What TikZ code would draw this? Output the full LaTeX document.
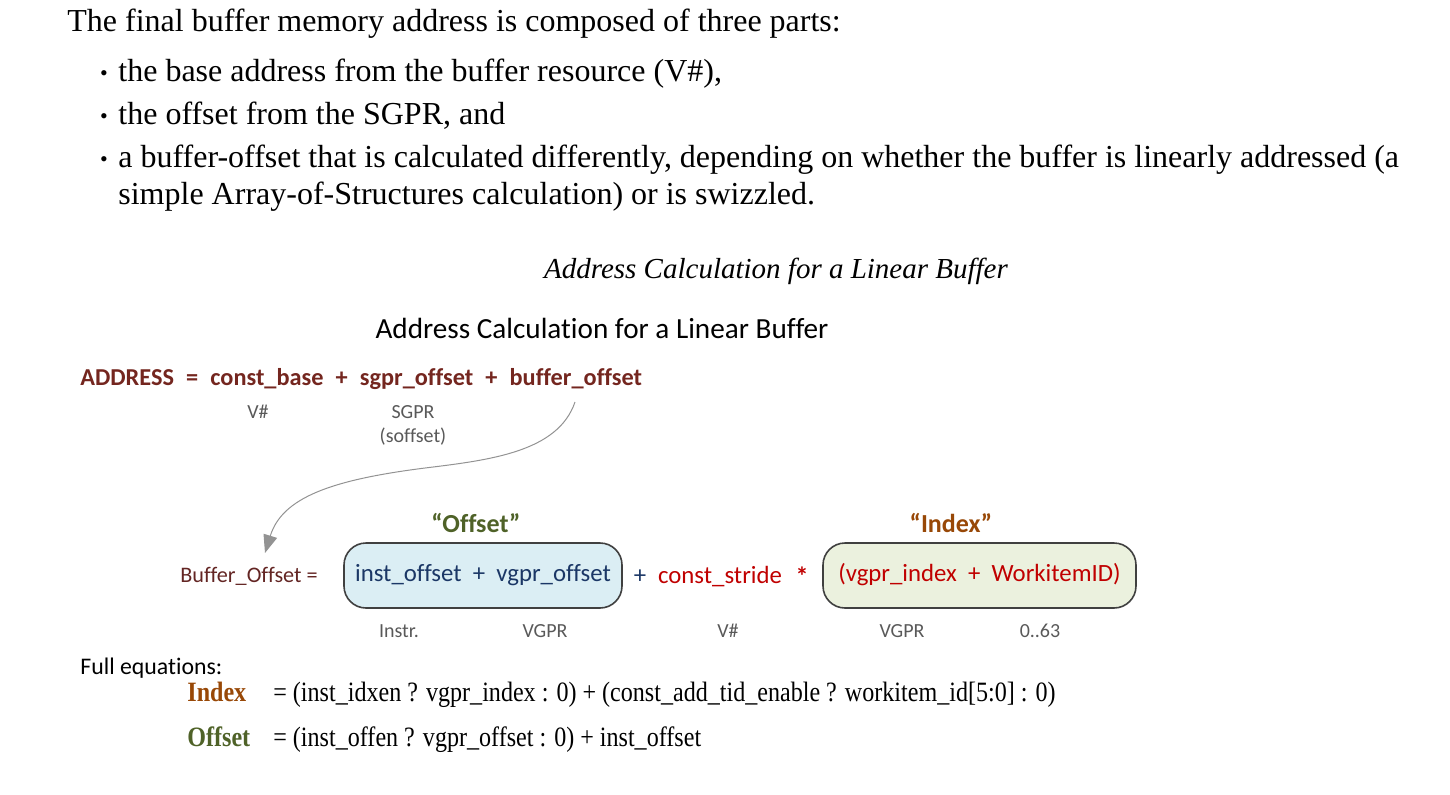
\documentclass[tikz,border=0pt]{standalone}
\usepackage{fontspec}
\setmainfont[Ligatures=NoCommon]{Carlito}
\newfontfamily\docserif{Liberation Serif}
\newfontfamily\eqserif[FakeStretch=0.86]{Liberation Serif}
\usetikzlibrary{arrows.meta}
\definecolor{addrred}{HTML}{74261F}
\definecolor{bufred}{HTML}{632523}
\definecolor{offgreen}{HTML}{4F6228}
\definecolor{idxbrown}{HTML}{984807}
\definecolor{navytxt}{HTML}{1B3766}
\definecolor{redtxt}{HTML}{C00000}
\definecolor{graytxt}{HTML}{595959}
\definecolor{boxblue}{HTML}{DBEEF4}
\definecolor{boxgreen}{HTML}{EBF1DE}
\definecolor{boxline}{HTML}{404040}
\tikzset{
  doc/.style={inner sep=0pt, anchor=base west, font=\docserif\fontsize{16}{19}\selectfont},
  bul/.style={inner sep=0pt, anchor=base, font=\docserif\fontsize{11}{13}\selectfont},
  lbl/.style={inner sep=0pt, anchor=base, text=graytxt, font=\fontsize{10}{12}\selectfont},
  hdr/.style={inner sep=0pt, anchor=base, font=\bfseries\fontsize{13}{15}\selectfont},
  eqbox/.style={draw=boxline, line width=0.8pt, rounded corners=11pt, minimum width=139pt, minimum height=32.5pt, inner sep=0pt, font=\fontsize{12.4}{15}\selectfont, text height=8.5pt, text depth=2.3pt},
  mid/.style={inner sep=0pt, anchor=base, font=\fontsize{12.4}{15}\selectfont},
  eqtxt/.style={inner sep=0pt, anchor=base west, font=\eqserif\fontsize{14}{16}\selectfont},
  eqlbl/.style={inner sep=0pt, anchor=base west, font=\eqserif\bfseries\fontsize{14}{16}\selectfont},
  curvearrow/.style={draw=gray!85, line width=0.5pt, -{Triangle[length=9pt,width=7pt,fill=gray!85]}}
}
\begin{document}
\begin{tikzpicture}[x=0.5pt, y=-0.5pt]
\useasboundingbox (0,0) rectangle (1450,794);
% top document text
\node[doc] (t0) at (67,31) {The final buffer memory address is composed of three parts:};
\node[bul] (b1) at (104,80) {\textbullet};
\node[doc] (l1) at (118,81) {the base address from the buffer resource (V\#),};
\node[bul] (b2) at (104,123) {\textbullet};
\node[doc] (l2) at (118,124) {the offset from the SGPR, and};
\node[bul] (b3) at (104,166) {\textbullet};
\node[doc] (l3) at (118,167) {a buffer-offset that is calculated differently, depending on whether the buffer is linearly addressed (a};
\node[doc] (l4) at (118,204) {simple Array-of-Structures calculation) or is swizzled.};
\node[doc, anchor=base, font=\docserif\itshape\fontsize{14.5}{17}\selectfont] (cap) at (776,278) {Address Calculation for a Linear Buffer};
% diagram
\node[inner sep=0pt, anchor=base, font=\fontsize{14.6}{17}\selectfont] (title) at (602,338) {Address Calculation for a Linear Buffer};
\node[inner sep=0pt, anchor=base west, text=addrred, font=\bfseries\fontsize{12.15}{15}\selectfont] (addr) at (80,385) {ADDRESS\enspace=\enspace const\_base\enspace+\enspace sgpr\_offset\enspace+\enspace buffer\_offset};
\node[lbl] (vh1) at (258,418) {V\#};
\node[lbl] (sgpr) at (413,418) {SGPR};
\node[lbl] (soff) at (413,442) {(soffset)};
\coordinate (cs) at (575,402);
\coordinate (ce) at (265,553);
\draw[curvearrow] (cs) .. controls (558,452) and (490,460) .. (425,468) .. controls (330,480) and (282,498) .. (ce);
% buffer offset line
\node[inner sep=0pt, anchor=base west, text=bufred, font=\fontsize{11.1}{13}\selectfont] (bo) at (180,582) {Buffer\_Offset =};
\node[hdr, text=offgreen] (hoff) at (476,532) {“Offset”};
\node[hdr, text=idxbrown] (hidx) at (951,532) {“Index”};
\node[eqbox, fill=boxblue, text=navytxt] (box1) at (483,575.5) {inst\_offset\ \ +\ \ vgpr\_offset\hspace{3pt}};
\node[eqbox, fill=boxgreen, text=redtxt, minimum width=156.5pt] (box2) at (979.5,575.5) {(vgpr\_index\ \ +\ \ WorkitemID)\hspace{4pt}};
\node[mid, text=navytxt] (plus) at (640,583) {+};
\node[mid, text=redtxt] (cstr) at (720,583) {const\_stride};
\node[mid, text=redtxt, font=\bfseries\fontsize{13}{15}\selectfont] (star) at (802,585) {*};
\node[lbl] (instr) at (399,637) {Instr.};
\node[lbl] (vg1) at (545,637) {VGPR};
\node[lbl] (vh2) at (728,637) {V\#};
\node[lbl] (vg2) at (902,637) {VGPR};
\node[lbl] (rng) at (1040,637) {0..63};
% full equations
\node[inner sep=0pt, anchor=base west, font=\fontsize{11.9}{14}\selectfont] (full) at (80,674) {Full equations:};
\node[eqlbl, text=idxbrown] (eidx) at (187,701) {Index};
\node[eqtxt] (eidxr) at (273,701) {= (inst\_idxen ? vgpr\_index : 0) + (const\_add\_tid\_enable ? workitem\_id[5:0] : 0)};
\node[eqlbl, text=offgreen] (eoff) at (187,746) {Offset};
\node[eqtxt] (eoffr) at (273,746) {= (inst\_offen ? vgpr\_offset : 0) + inst\_offset};
\end{tikzpicture}
\end{document}
